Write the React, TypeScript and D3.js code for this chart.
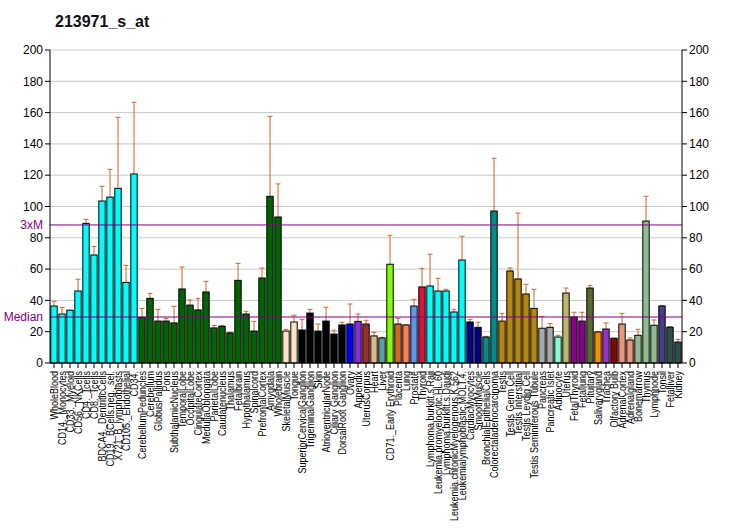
import React from "react";
import * as d3 from "d3";

const categories = [
  "WholeBlood", "CD14._Monocytes", "CD33._Myeloid", "CD56._NKCells", "CD4._Tcells", "CD8._Tcells",
  "BDCA4._DentriticCells", "CD19._BCells.neg._sel.", "X721_B_lymphoblasts", "CD105._Endothelial", "CD34.",
  "CerebellumPeduncles", "Cerebellum", "GlobusPallidus", "Pons", "SubthalamicNucleus", "TemporalLobe",
  "OccipitalLobe", "CingulateCortex", "MedullaOblongata", "ParietalLobe", "Caudatenucleus", "Thalamus",
  "Fetalbrain", "Hypothalamus", "Spinalcord", "PrefrontalCortex", "Amygdala", "Wholebrain",
  "SkeletalMuscle", "Tongue", "SuperiorCervicalGanglion", "TrigeminalGanglion", "Skin",
  "AtrioventricularNode", "Ciliary Ganglion", "DorsalRoot Ganglion", "Ovary", "Appendix", "UterusCorpus",
  "Heart", "Liver", "CD71._Early Erythroid", "Placenta", "Lung", "Prostate", "Thyroid",
  "Lymphoma.burkitt.s.Raji", "Leukemia.promyelocytic.HL.60", "Lymphoma.burkitt.s.Daudi",
  "Leukemia.chronicMyelogenous.K.562", "Leukemialymphoblastic.MOLT.4.", "CardiacMyocytes", "SmoothMuscle",
  "BronchialEpithelialCells", "Colorectaladenocarcinoma", "Testis", "Testis Germ Cell", "Testis Interstitial",
  "Testis Leydig Cell", "Testis Seminiferous Tubule", "Pancreas", "Pancreatic Islet", "Adipocyte", "Uterus",
  "FetalThyroid", "Fetallung", "Pituitary", "Salivarygland", "Trachea", "Olfactory Bulb", "AdrenalCortex",
  "Adrenalgland", "Bonemarrow", "Thymus", "Lymphnode", "Tonsil", "Fetalliver", "Kidney",
];

const values = [
  36.4, 31.3, 33.7, 46, 89.2, 69, 103.5, 106, 111.6, 51.5, 120.8,
  29.2, 41.3, 26.8, 26.8, 25.6, 47.3, 37, 33.9, 45.4, 22.4, 23.4, 19.2,
  52.8, 31.3, 20.4, 54.3, 106.5, 93.3,
  20.4, 26.2, 21.1, 31.9, 20.4, 26.8, 18.5, 24.3, 24.9, 26.6, 24.9,
  17.3, 16, 63.1, 24.9, 24.3, 36.4, 48.6,
  49.2, 46, 46, 32.6, 65.8, 26.2, 22.8,
  16.6, 97.1, 26.8, 58.8, 53.7, 44.1, 34.9, 22.2, 22.8, 16.6, 44.7,
  29.4, 26.8, 47.9, 19.8, 21.7, 15.8, 24.9, 14.7, 17.7, 90.7, 24.1, 36.4, 22.8, 13.4,
];

const errorTops = [
  39.4, 35.6, 33.7, 53.5, 91.8, 74.5, 112.9, 123.7, 157, 62.4, 166.6,
  34.9, 44.5, 34.3, 28.5, 36.2, 61.3, 40.3, 41.3, 52.2, 24, 24, 19.5,
  63.7, 33, 26.6, 60.7, 157.6, 114.4,
  21.5, 30.5, 27.9, 34.3, 24.9, 35.6, 20.9, 26, 37.7, 31.3, 27.3,
  19.6, 16.4, 81.6, 28.5, 24.3, 40.7, 60.5,
  69.5, 54.1, 47.1, 34.3, 81, 27.9, 26,
  17, 130.8, 31.7, 60.7, 95.8, 50.3, 47.1, 29.8, 25.3, 17.7, 47.9,
  32.4, 32.4, 49.6, 20.2, 25.6, 15.8, 31.7, 16, 21.5, 106.5, 27.5, 36.8, 23.3, 15.1,
];

const colors = [
  ...Array(11).fill("#00FFFF"),
  ...Array(18).fill("#006400"),
  "#FFE4C4", "#FFE4C4",
  ...Array(6).fill("#000000"),
  "#0000FF", "#8A2BE2", "#A52A2A", "#DEB887", "#5F9EA0", "#7FFF00", "#D2691E", "#FF7F50", "#6495ED", "#DC143C",
  ...Array(5).fill("#00FFFF"),
  "#00008B", "#00008B", "#008B8B", "#008B8B",
  ...Array(5).fill("#B8860B"),
  "#A9A9A9", "#A9A9A9", "#7FFFD4", "#BDB76B", "#8B008B", "#8B008B", "#556B2F", "#FF8C00", "#9932CC", "#8B0000",
  "#E9967A", "#E9967A", "#8FBC8F", "#8FBC8F", "#8FBC8F", "#483D8B", "#2F4F4F", "#2F4F4F",
];

const yTicks = [0, 20, 40, 60, 80, 100, 120, 140, 160, 180, 200];
const medianValue = 29.4;
const threeXM = 88.2;
const title = "213971_s_at";

export default function App() {
  const left = 50, right = 682, top = 50, bottom = 363;
  const x = d3.scaleBand<string>().domain(categories).range([left, right]).paddingInner(0.2).paddingOuter(0.1);
  const y = d3.scaleLinear().domain([0, 200]).range([bottom, top]);
  const bw = x.bandwidth();
  const font = "Arial, 'Liberation Sans', sans-serif";
  const errColor = "#C8692E";
  return (
    <svg width={732} height={530} style={{ position: "absolute", left: 0, top: 0, background: "#fff" }}>
      <text x={55} y={27} fontFamily={font} fontSize={16} fontWeight="bold" fill="#111">{title}</text>
      {yTicks.map((t) => (
        <g key={t}>
          {t > 0 && <line x1={left} x2={right} y1={y(t)} y2={y(t)} stroke="#c8c8c8" strokeWidth={1} />}
          <line x1={left - 5} x2={left} y1={y(t)} y2={y(t)} stroke="#000" />
          <line x1={right} x2={right + 5} y1={y(t)} y2={y(t)} stroke="#000" />
          <text x={left - 7} y={y(t)} dy="0.35em" textAnchor="end" fontFamily={font} fontSize={12} fill="#000">{t}</text>
          <text x={right + 7} y={y(t)} dy="0.35em" textAnchor="start" fontFamily={font} fontSize={12} fill="#000">{t}</text>
        </g>
      ))}
      {categories.map((c, i) => {
        const cx = x(c)! + bw / 2;
        return (
          <g key={c}>
            <line x1={cx} x2={cx} y1={y(errorTops[i])} y2={y(values[i])} stroke={errColor} strokeWidth={1} />
            <line x1={cx - 2.5} x2={cx + 2.5} y1={y(errorTops[i])} y2={y(errorTops[i])} stroke={errColor} strokeWidth={1} />
            <rect x={x(c)!} y={y(values[i])} width={bw} height={bottom - y(values[i])} fill={colors[i]} stroke="#000" strokeWidth={1} />
            <line x1={cx} x2={cx} y1={bottom} y2={bottom + 5} stroke="#000" />
            <text
              transform={`translate(${cx},${bottom + 8}) rotate(-90) scale(0.9,1)`}
              dy="0.35em"
              textAnchor="end"
              fontFamily={font}
              fontSize={10}
              fill="#000"
            >{c}</text>
          </g>
        );
      })}
      <line x1={left} x2={right} y1={y(medianValue)} y2={y(medianValue)} stroke="#800080" strokeWidth={1} />
      <line x1={left} x2={right} y1={y(threeXM)} y2={y(threeXM)} stroke="#800080" strokeWidth={1} />
      <text x={left - 7} y={y(medianValue)} dy="0.35em" textAnchor="end" fontFamily={font} fontSize={12} fill="#800080">Median</text>
      <text x={left - 7} y={y(threeXM)} dy="0.35em" textAnchor="end" fontFamily={font} fontSize={12} fill="#800080">3xM</text>
      <line x1={left} x2={left} y1={top} y2={bottom} stroke="#000" />
      <line x1={right} x2={right} y1={top} y2={bottom} stroke="#000" />
      <line x1={left} x2={right} y1={bottom} y2={bottom} stroke="#000" />
    </svg>
  );
}
